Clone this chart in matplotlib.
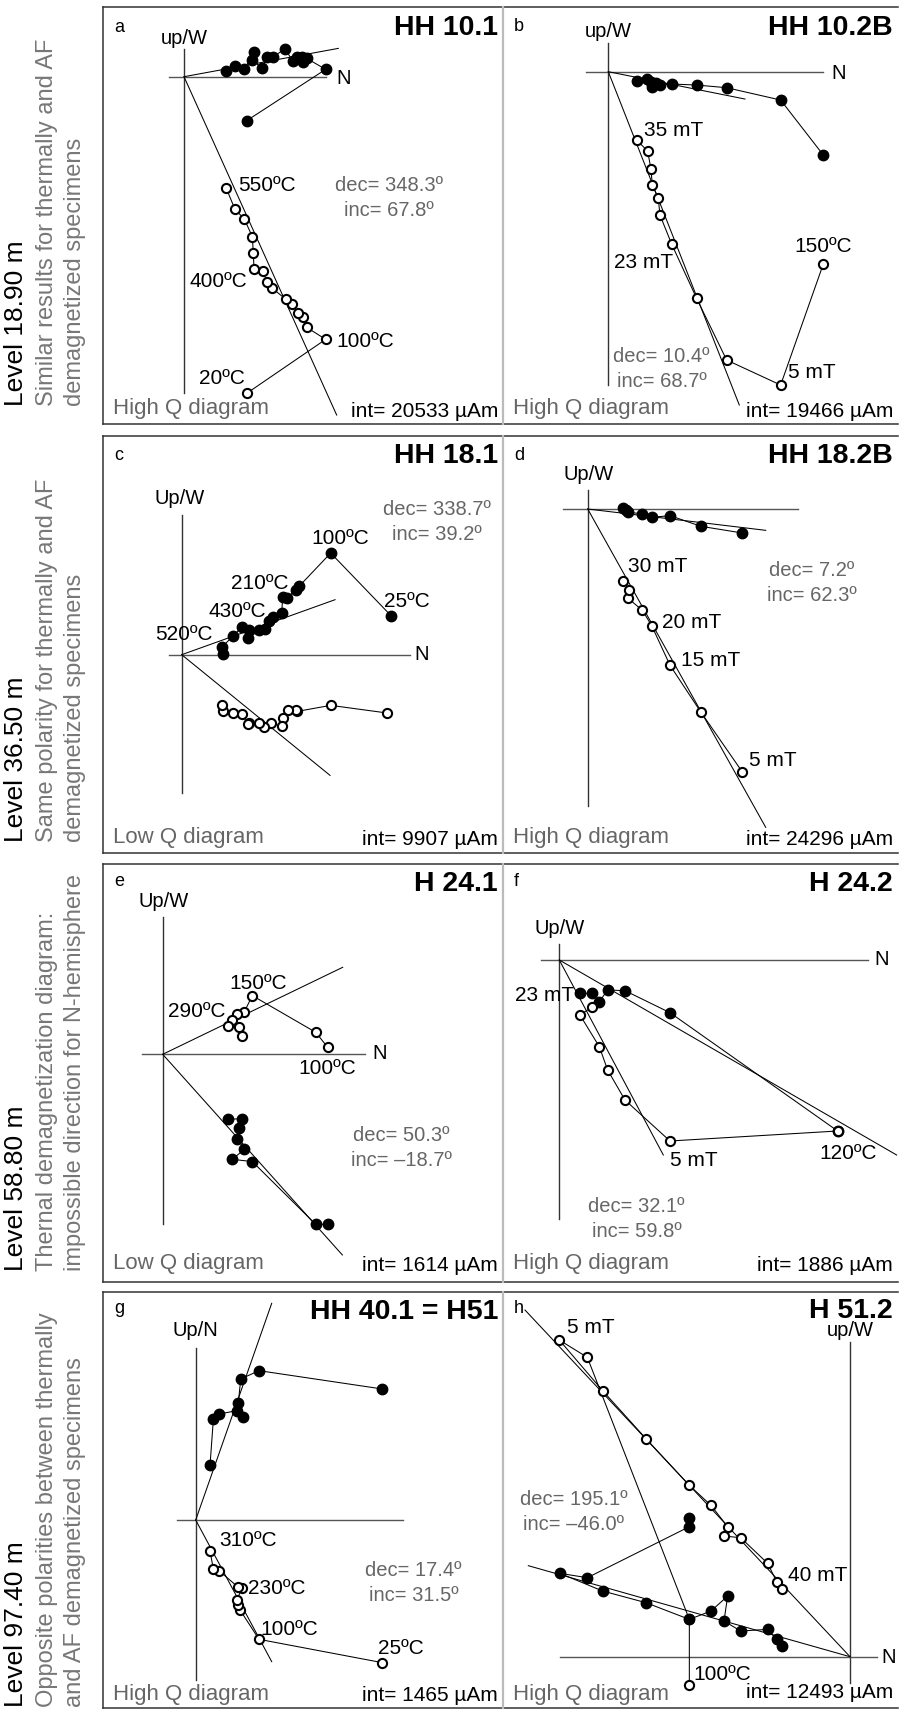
import matplotlib.pyplot as plt

plt.rcParams['font.family'] = ['Liberation Sans', 'DejaVu Sans']

W, H = 899, 1710
GRAY = '#666666'

# ---- data: arbitrary units, origin at the axes crossing, x = N, y = up ----
# filled = horizontal projection (h), open = vertical projection (v)

# a  HH 10.1
a_hx = [188, 425, 368, 358, 353, 340, 326, 303, 266, 248, 235, 205, 210, 181, 153, 126]
a_hy = [-132, 22, 55, 43, 60, 58, 47, 84, 58, 58, 25, 50, 73, 23, 33, 18]
a_vx = [188, 425, 368, 358, 341, 325, 306, 265, 248, 238, 210, 208, 205, 181, 153, 126]
a_vy = [-950, -788, -752, -720, -710, -682, -668, -635, -617, -582, -576, -530, -480, -427, -398, -333]
a_fit_h = (463, 85)
a_fit_v = (458, -1015)

# b  HH 10.2B
b_hx = [645, 517, 355, 265, 190, 155, 143, 130, 127, 115, 85]
b_hy = [-250, -85, -48, -40, -37, -40, -35, -47, -30, -22, -28]
b_vx = [645, 517, 355, 265, 190, 155, 150, 132, 128, 118, 85]
b_vy = [-577, -940, -865, -680, -517, -430, -380, -340, -292, -238, -205]
b_fit_h = (410, -82)
b_fit_v = (393, -1000)

# c  HH 18.1
c_hx = [628, 447, 352, 342, 317, 303, 300, 273, 263, 250, 233, 200, 202, 180, 153, 121, 125]
c_hy = [117, 305, 205, 195, 170, 173, 125, 112, 100, 78, 73, 50, 73, 83, 55, 23, 2]
c_vx = [617, 447, 347, 342, 320, 303, 300, 267, 248, 233, 202, 198, 180, 153, 125, 121]
c_vy = [-175, -152, -170, -165, -167, -190, -215, -205, -218, -205, -205, -208, -177, -175, -168, -150]
c_fit_h = (460, 165)
c_fit_v = (445, -362)

# d  HH 18.2B
d_hx = [464, 340, 247, 192, 162, 122, 115, 107]
d_hy = [-72, -52, -20, -25, -14, -10, -2, 3]
d_vx = [464, 340, 247, 192, 164, 120, 125, 107]
d_vy = [-789, -610, -469, -350, -304, -267, -242, -217]
d_fit_h = (534, -64)
d_fit_v = (534, -955)

# e  H 24.1
e_hx = [495, 459, 269, 209, 245, 224, 230, 239, 195]
e_hy = [-510, -510, -322, -315, -285, -254, -222, -194, -194]
e_vx = [495, 459, 269, 245, 224, 209, 195, 230, 239]
e_vy = [21, 66, 176, 128, 120, 103, 85, 83, 56]
e_fit_h = (539, -602)
e_fit_v = (540, 261)

# f  H 24.2
f_hx = [835, 332, 197, 145, 120, 97, 62]
f_hy = [-513, -158, -92, -90, -125, -100, -100]
f_vx = [835, 332, 197, 145, 120, 62, 97]
f_vy = [-513, -543, -420, -330, -260, -165, -142]
f_fit_h = (1012, -585)
f_fit_v = (312, -585)

# g  HH 40.1 = H51
g_hx = [560, 190, 135, 128, 141, 123, 71, 53, 43]
g_hy = [393, 448, 423, 352, 308, 328, 318, 302, 165]
g_vx = [560, 190, 133, 126, 123, 140, 128, 71, 53, 43]
g_vy = [-428, -358, -270, -255, -240, -203, -202, -153, -148, -93]
g_fit_h = (228, 650)
g_fit_v = (228, -425)

# h  H 51.2
h_hx = [-482, -482, -788, -870, -742, -612, -482, -417, -367, -378, -328, -247, -220, -203]
h_hy = [415, 390, 237, 250, 197, 162, 112, 137, 182, 107, 77, 82, 52, 32]
h_vx = [-482, -482, -788, -872, -742, -612, -483, -417, -367, -378, -328, -247, -220, -203]
h_vy = [-85, 112, 898, 950, 798, 654, 515, 454, 390, 362, 357, 280, 225, 203]
h_fit_h = (-965, 273)
h_fit_v = (-975, 1040)

panel_ids = ['a', 'b', 'c', 'd', 'e', 'f', 'g', 'h']
samples = ['HH 10.1', 'HH 10.2B', 'HH 18.1', 'HH 18.2B', 'H 24.1', 'H 24.2', 'HH 40.1 = H51', 'H 51.2']
quality = ['High Q diagram', 'High Q diagram', 'Low Q diagram', 'High Q diagram',
           'Low Q diagram', 'High Q diagram', 'High Q diagram', 'High Q diagram']
intensity = ['20533', '19466', '9907', '24296', '1614', '1886', '1465', '12493']
decs = ['348.3', '10.4', '338.7', '7.2', '50.3', '32.1', '17.4', '195.1']
incs = ['67.8', '68.7', '39.2', '62.3', '\u201318.7', '59.8', '31.5', '\u201346.0']
axis_names = ['up/W', 'up/W', 'Up/W', 'Up/W', 'Up/W', 'Up/W', 'Up/N', 'up/W']

levels = ['Level 18.90 m', 'Level 36.50 m', 'Level 58.80 m', 'Level 97.40 m']
notes = [('Similar results for thermally and AF', 'demagnetized specimens'),
         ('Same polarity for thermally and AF', 'demagnetized specimens'),
         ('Thernal demagnetization diagram:', 'impossible direction for N-hemisphere'),
         ('Opposite polarities between thermally', 'and AF demagnetized specimens')]

series = {
    'a': (a_hx, a_hy, a_vx, a_vy, a_fit_h, a_fit_v),
    'b': (b_hx, b_hy, b_vx, b_vy, b_fit_h, b_fit_v),
    'c': (c_hx, c_hy, c_vx, c_vy, c_fit_h, c_fit_v),
    'd': (d_hx, d_hy, d_vx, d_vy, d_fit_h, d_fit_v),
    'e': (e_hx, e_hy, e_vx, e_vy, e_fit_h, e_fit_v),
    'f': (f_hx, f_hy, f_vx, f_vy, f_fit_h, f_fit_v),
    'g': (g_hx, g_hy, g_vx, g_vy, g_fit_h, g_fit_v),
    'h': (h_hx, h_hy, h_vx, h_vy, h_fit_h, h_fit_v),
}

# ---- layout (pixels) ----
rows = [(7, 424), (436, 853), (864, 1282), (1292, 1708)]
cols = [(103, 503), (503, 898)]
origins = {'a': (184, 76.7), 'b': (608.3, 71.7), 'c': (181.7, 654.7), 'd': (587.7, 509),
           'e': (162.7, 1054.3), 'f': (559.3, 960), 'g': (195.7, 1520), 'h': (850, 1656.7)}
# axis extents in data units: (vertical lo, hi), (horizontal lo, hi)
axis_ext = {'a': ((-948, 82), (-44, 426)), 'b': ((-940, 85), (-67, 645)),
            'c': ((-415, 420), (-37, 685)), 'd': ((-892, 58), (-73, 630)),
            'e': ((-509, 413), (-63, 607)), 'f': ((-778, 47), (-55, 927)),
            'g': ((-480, 515), (-57, 623)), 'h': ((-80, 945), (-870, 80))}
axis_label_pos = {'a': (0, 115), 'b': (0, 120), 'c': (-5, 470), 'd': (2, 103),
                  'e': (2, 458), 'f': (2, 95), 'g': (-2, 570), 'h': (0, 978)}
n_pos = {'a': (478, -5), 'b': (690, -5), 'c': (720, 2), 'e': (650, 1), 'f': (967, 2), 'h': (115, -3)}
decinc_pos = {'a': (616, -325), 'b': (160, -855), 'c': (765, 435), 'd': (672, -184),
              'e': (717, -244), 'f': (232, -740), 'g': (653, -150), 'h': (-830, 472)}
step_labels = {
    'a': [('550ºC', 163, -325, 'left'), ('400ºC', 18, -615, 'left'),
          ('100ºC', 458, -795, 'left'), ('20ºC', 46, -905, 'left')],
    'b': [('35 mT', 108, -177, 'left'), ('23 mT', 18, -573, 'left'),
          ('150ºC', 645, -525, 'center'), ('5 mT', 540, -903, 'left')],
    'c': [('100ºC', 477, 348, 'center'), ('210ºC', 233, 215, 'center'), ('25ºC', 675, 160, 'center'),
          ('430ºC', 167, 130, 'center'), ('520ºC', 8, 60, 'center')],
    'd': [('30 mT', 122, -174, 'left'), ('20 mT', 224, -342, 'left'),
          ('15 mT', 280, -454, 'left'), ('5 mT', 485, -755, 'left')],
    'e': [('150ºC', 287, 213, 'center'), ('290ºC', 102, 128, 'center'), ('100ºC', 495, -42, 'center')],
    'f': [('23 mT', -133, -107, 'left'), ('5 mT', 332, -603, 'left'), ('120ºC', 867, -580, 'center')],
    'g': [('310ºC', 158, -60, 'center'), ('230ºC', 158, -205, 'left'),
          ('100ºC', 281, -328, 'center'), ('25ºC', 616, -385, 'center')],
    'h': [('5 mT', -850, 987, 'left'), ('40 mT', -185, 245, 'left'), ('100ºC', -470, -53, 'left')],
}
# baselines (px): letter, title, bottom texts
letter_base = [31.7, 30.7, 459.7, 459.7, 886, 886, 1313, 1313]
title_base = [35, 35, 463, 463, 890.7, 890.7, 1319.3, 1318.3]
q_base = [414.3, 414.3, 843, 843, 1269.3, 1269.3, 1700, 1700]
int_base = [416.7, 416.7, 844.7, 844.7, 1270.7, 1270.7, 1700.7, 1698.3]
filled_on_top = {'f': False, 'h': True}

fig = plt.figure(figsize=(W / 100, H / 100), dpi=100)
ov = fig.add_axes([0, 0, 1, 1])
ov.set_xlim(0, W)
ov.set_ylim(H, 0)
ov.axis('off')

# row frames
for top, bot in rows:
    ov.plot([103, 898], [top, top], color='#333333', lw=1.1)
    ov.plot([103, 898], [bot, bot], color='#333333', lw=1.1)
    ov.plot([103, 103], [top, bot], color='#333333', lw=1.1)
    ov.plot([503, 503], [top, bot], color='#bbbbbb', lw=1.6)

# left row labels
text_bottoms = [406, 842, 1271, 1707]
narrow = ['Liberation Sans Narrow', 'Liberation Sans']
for lev, (l1, l2), yb in zip(levels, notes, text_bottoms):
    ov.text(16, yb, lev, rotation=90, ha='center', va='bottom', fontsize=19, family=narrow)
    ov.text(47, yb, l1, rotation=90, ha='center', va='bottom', fontsize=17, color='#777777', family=narrow)
    ov.text(75, yb, l2, rotation=90, ha='center', va='bottom', fontsize=17, color='#777777', family=narrow)

for i, pid in enumerate(panel_ids):
    r, c = divmod(i, 2)
    x0, x1 = cols[c]
    # overlay texts
    ov.text(x0 + 11, letter_base[i], pid, fontsize=13, ha='left', va='baseline')
    ov.text(x1 - 5, title_base[i], samples[i], fontsize=20.5, fontweight='bold', ha='right', va='baseline')
    ov.text(x0 + 10, q_base[i], quality[i], fontsize=16, color=GRAY, ha='left', va='baseline')
    ov.text(x1 - 5, int_base[i], f'int= {intensity[i]} µAm', fontsize=15, ha='right', va='baseline')

    ox, oy = origins[pid]
    ax = fig.add_axes([0, 0, 1, 1])
    ax.set_xlim(-ox * 3, (W - ox) * 3)
    ax.set_ylim((oy - H) * 3, oy * 3)
    ax.axis('off')
    ax.patch.set_alpha(0)

    hx, hy, vx, vy, fit_h, fit_v = series[pid]
    (vlo, vhi), (hlo, hhi) = axis_ext[pid]
    ax.plot([0, 0], [vlo, vhi], color='#333333', lw=1.0, zorder=1)
    ax.plot([hlo, hhi], [0, 0], color='#555555', lw=1.0, zorder=1)
    ax.plot([0, fit_h[0]], [0, fit_h[1]], color='black', lw=0.75, zorder=1)
    ax.plot([0, fit_v[0]], [0, fit_v[1]], color='black', lw=0.75, zorder=1)

    top_f = filled_on_top.get(pid, True)
    ax.plot(hx, hy, '-o', color='black', lw=0.75, ms=7.5, mfc='black', mec='black',
            zorder=4 if top_f else 2)
    ax.plot(vx, vy, '-o', color='black', lw=0.75, ms=6.6, mfc='white', mec='black', mew=1.5,
            zorder=2 if top_f else 4)

    lx, ly = axis_label_pos[pid]
    ax.text(lx, ly, axis_names[i], fontsize=14.5, ha='center', va='center')
    if pid in n_pos:
        ax.text(n_pos[pid][0], n_pos[pid][1], 'N', fontsize=14.5, ha='center', va='center')
    dx, dy = decinc_pos[pid]
    ax.text(dx, dy, f'dec= {decs[i]}º', fontsize=14.5, color=GRAY, ha='center', va='center')
    ax.text(dx, dy - 75, f'inc= {incs[i]}º', fontsize=14.5, color=GRAY, ha='center', va='center')
    for txt, tx, ty, ha in step_labels[pid]:
        ax.text(tx, ty, txt, fontsize=15, ha=ha, va='center', zorder=5)

fig.savefig('out.png', dpi=100)
